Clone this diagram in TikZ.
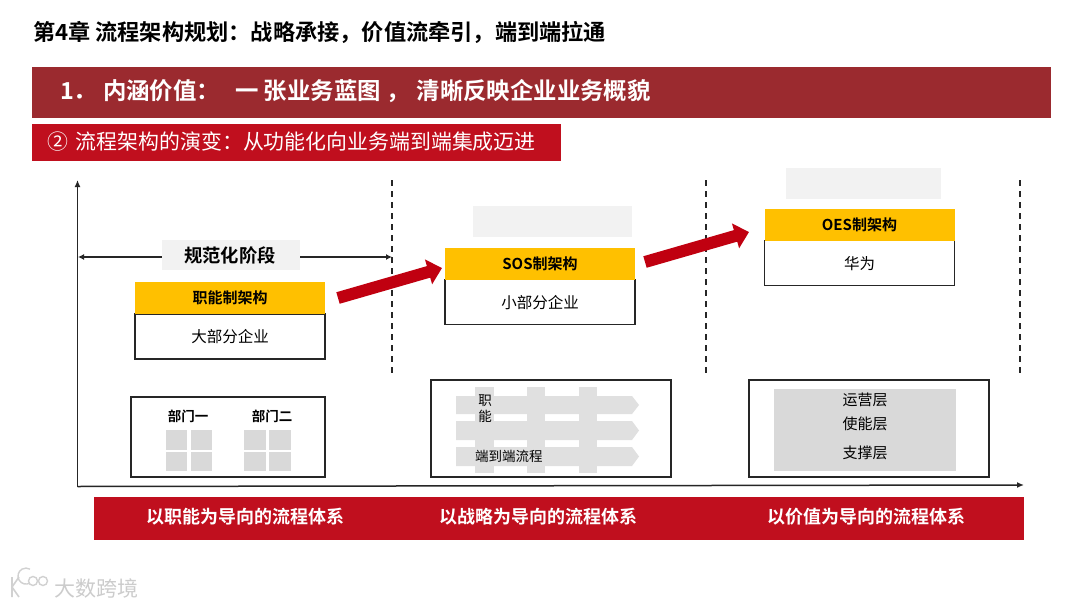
\documentclass[tikz,border=0pt]{standalone}
\usepackage{fontspec}
\setmainfont{Noto Sans CJK SC}[BoldFont={Noto Sans CJK SC Bold}]
\usetikzlibrary{arrows.meta,shapes.arrows,shapes.geometric}
\definecolor{bannerdark}{HTML}{9B2A2F}
\definecolor{bannerred}{HTML}{C00F1E}
\definecolor{arrowred}{HTML}{C00010}
\definecolor{archyellow}{HTML}{FFC000}
\definecolor{softgray}{HTML}{F2F2F2}
\definecolor{midgray}{HTML}{D9D9D9}
\definecolor{flowgray}{HTML}{E0E0E0}
\definecolor{lineblack}{HTML}{262626}
\tikzset{
 px/.style={inner sep=0pt,outer sep=0pt},
 txt/.style={px,text=black,font=\fontsize{#1}{#1}\selectfont,anchor=center},
 btxt/.style={px,text=black,font=\bfseries\fontsize{#1}{#1}\selectfont,anchor=center},
 wtxt/.style={px,text=white,font=\bfseries\fontsize{#1}{#1}\selectfont},
 yellowbox/.style={px,fill=archyellow,minimum width=190pt,minimum height=32pt,font=\bfseries\fontsize{15}{15}\selectfont},
 whitebox/.style={px,draw=lineblack,line width=1.1pt,fill=white,minimum width=190pt,minimum height=45pt,font=\fontsize{15.5}{15.5}\selectfont},
 framebox/.style={px,draw=lineblack,line width=1.1pt,fill=white},
 blank/.style={px,fill=softgray,minimum width=156pt,minimum height=31pt},
 cell/.style={px,fill=midgray,minimum width=21.5pt,minimum height=19.5pt},
 axisline/.style={draw=lineblack,line width=1.5pt,-{Latex[length=7pt,width=6pt]}},
 span/.style={draw=lineblack,line width=1.2pt,{Latex[length=6pt,width=6pt]}-{Latex[length=6pt,width=6pt]}},
 divider/.style={draw=lineblack,line width=1.8pt,dash pattern=on 6pt off 5pt},
 bigarrow/.style={draw=arrowred,line width=12pt,-{Triangle[length=14pt,width=25pt]}},
}
\begin{document}
\begin{tikzpicture}[x=1pt,y=-1pt]
\useasboundingbox (0,0) rectangle (1080,608);
\fill[white] (0,0) rectangle (1080,608);
\node[btxt=22.2,anchor=west] (title) at (33,32) {第4章 流程架构规划：战略承接，价值流牵引，端到端拉通};
\node[px,fill=bannerdark,minimum width=1019pt,minimum height=51pt,anchor=north west] (banner) at (32,67) {};
\node[wtxt=23.4,anchor=west] (bannertext) at (60,91) {1．\hspace{6pt}内涵价值：\hspace{15pt}一 张业务蓝图 ，\hspace{7pt}清晰反映企业业务概貌};
\node[px,fill=bannerred,minimum width=529pt,minimum height=37pt,anchor=north west] (sub) at (32,124) {};
\node[px,text=white,font=\fontsize{20.9}{20.9}\selectfont,anchor=west] (subtext) at (47,142) {②\hspace{8pt}流程架构的演变：从功能化向业务端到端集成迈进};
% axes
\coordinate (origin) at (77.5,486.5);
\coordinate (ytop) at (77.5,180);
\coordinate (xend) at (1024,485);
\draw[axisline] (origin) -- (ytop);
\draw[axisline] (origin) -- (xend);
% dividers
\coordinate (d1t) at (392,180); \coordinate (d1b) at (392,376);
\coordinate (d2t) at (706,180); \coordinate (d2b) at (706,376);
\coordinate (d3t) at (1020,180); \coordinate (d3b) at (1020,376);
\draw[divider] (d1t) -- (d1b);
\draw[divider] (d2t) -- (d2b);
\draw[divider] (d3t) -- (d3b);
% span
\coordinate (sl) at (78,257); \coordinate (sr) at (392,257);
\draw[span] (sl) -- (sr);
\node[px,fill=softgray,minimum width=138pt,minimum height=30pt] (norm) at (231,255) {};
\node[btxt=18.3] (normtext) at (230,255) {规范化阶段};
% stage 1
\node[whitebox] (w1) at (230,336.5) {};
\node[txt=15.5] (w1t) at (230,337) {大部分企业};
\node[yellowbox] (y1) at (230,298) {职能制架构};
% stage 2
\node[blank,minimum width=159pt] (b2) at (552.5,221.5) {};
\node[whitebox] (w2) at (540,302) {};
\node[txt=15.5] (w2t) at (540,303) {小部分企业};
\node[yellowbox] (y2) at (540,263.5) {SOS制架构};
% stage 3
\node[blank,minimum width=155pt] (b3) at (863.5,183.5) {};
\node[whitebox] (w3) at (859.5,263) {};
\node[txt=15.5] (w3t) at (859.5,264) {华为};
\node[yellowbox] (y3) at (859.5,224.5) {OES制架构};
% arrows
\coordinate (a1s) at (338,298); \coordinate (a1e) at (442,268);
\coordinate (a2s) at (645,262); \coordinate (a2e) at (749,232);
\draw[bigarrow] (a1s) -- (a1e);
\draw[bigarrow] (a2s) -- (a2e);
% box 1
\node[framebox,minimum width=194pt,minimum height=80pt,anchor=north west] (f1) at (131,397) {};
\node[btxt=13.5] (dept1) at (188,416) {部门一};
\node[btxt=13.5] (dept2) at (272,416) {部门二};
\node[cell] (c11) at (176.5,440) {}; \node[cell] (c12) at (201.5,440) {};
\node[cell] (c13) at (176.5,461.5) {}; \node[cell] (c14) at (201.5,461.5) {};
\node[cell] (c21) at (255,440) {}; \node[cell] (c22) at (280,440) {};
\node[cell] (c23) at (255,461.5) {}; \node[cell] (c24) at (280,461.5) {};
% box 2
\node[framebox,minimum width=240pt,minimum height=97pt,anchor=north west] (f2) at (431,380) {};
\fill[flowgray] (456,396) -- (632,396) -- (639,405) -- (632,414) -- (456,414) -- cycle;
\fill[flowgray] (456,421) -- (632,421) -- (639,430.5) -- (632,440) -- (456,440) -- cycle;
\fill[flowgray] (456,447) -- (632,447) -- (639,456.5) -- (632,466) -- (456,466) -- cycle;
\fill[flowgray] (475,387) rectangle (494,473);
\fill[flowgray] (527,387) rectangle (545,473);
\fill[flowgray] (579,387) rectangle (597,473);
\node[txt=13.5] (zhi) at (485,401) {职};
\node[txt=13.5] (neng) at (485,416) {能};
\node[txt=13.5,anchor=west] (e2e) at (475,456) {端到端流程};
% box 3
\node[framebox,minimum width=240pt,minimum height=97pt,anchor=north west] (f3) at (749,380) {};
\node[px,fill=midgray,minimum width=182pt,minimum height=82pt,anchor=north west] (g3) at (774,389) {};
\node[txt=15] (l1) at (865,400) {运营层};
\node[txt=15] (l2) at (865,424) {使能层};
\node[txt=15] (l3) at (865,453) {支撑层};
% bottom band
\node[px,fill=bannerred,minimum width=930pt,minimum height=43pt,anchor=north west] (band) at (94,497) {};
\node[wtxt=18] (t1) at (245,517) {以职能为导向的流程体系};
\node[wtxt=18] (t2) at (538,517) {以战略为导向的流程体系};
\node[wtxt=18] (t3) at (866,517) {以价值为导向的流程体系};
% watermark
\draw[black!18,line width=1.6pt] (12,577) -- (12,597) (12,587) -- (19,577) (12,587) -- (19,597);
\draw[black!18,line width=1.4pt] (30,583) arc (60:300:8);
\draw[black!18,line width=1.4pt] (33,581) circle (4.5) (43,581) circle (4.5);
\node[px,text=black!20,font=\fontsize{21}{21}\selectfont,anchor=west] (mark) at (54,588) {大数跨境};
\end{tikzpicture}
\end{document}
